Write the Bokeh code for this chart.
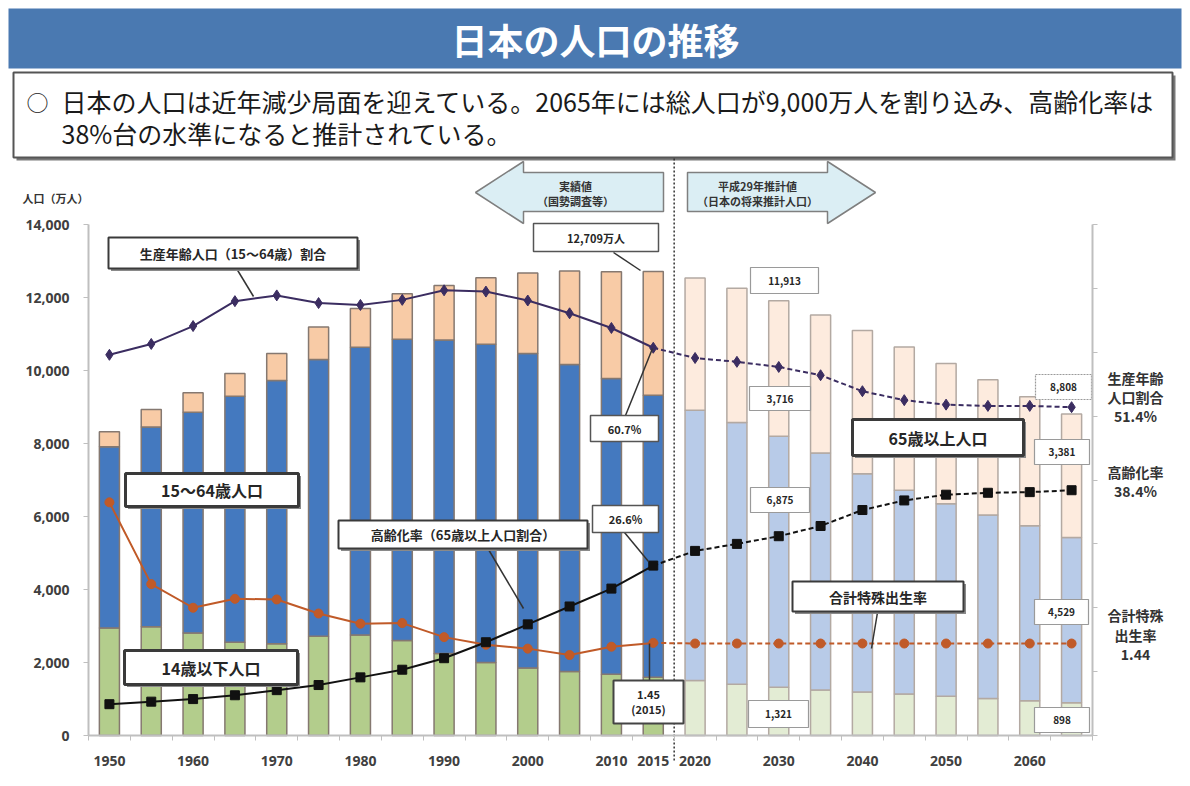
from bokeh.plotting import figure
from bokeh.models import (Range1d, LinearAxis, FixedTicker, NumeralTickFormatter,
                          ColumnDataSource)
from bokeh.embed import file_html
from bokeh.resources import INLINE
from bokeh.core.properties import value

# ---------------- data ----------------
years = [1950, 1955, 1960, 1965, 1970, 1975, 1980, 1985, 1990, 1995, 2000, 2005,
         2010, 2015, 2020, 2025, 2030, 2035, 2040, 2045, 2050, 2055, 2060, 2065]
age_0_14 = [2943, 2980, 2807, 2553, 2515, 2722, 2751, 2603, 2249, 2001, 1847, 1752,
            1680, 1595, 1507, 1407, 1321, 1246, 1194, 1138, 1077, 1012, 951, 898]
age_15_64 = [4966, 5473, 6047, 6744, 7212, 7581, 7883, 8251, 8590, 8716, 8622, 8409,
             8103, 7728, 7406, 7170, 6875, 6494, 5978, 5584, 5275, 5028, 4793, 4529]
age_65_plus = [416, 479, 535, 624, 739, 887, 1065, 1247, 1489, 1826, 2201, 2567,
               2925, 3387, 3619, 3677, 3716, 3782, 3921, 3919, 3841, 3704, 3540, 3381]
total_pop = [8320, 8928, 9342, 9921, 10467, 11194, 11706, 12105, 12361, 12557, 12693, 12777,
             12806, 12709, 12532, 12254, 11913, 11522, 11092, 10642, 10192, 9744, 9284, 8808]
ratio_15_64 = [59.6, 61.3, 64.1, 68.0, 68.9, 67.7, 67.4, 68.2, 69.7, 69.5, 68.1, 66.1,
               63.8, 60.7, 59.1, 58.5, 57.7, 56.4, 53.9, 52.5, 51.8, 51.6, 51.6, 51.4]
aging_rate = [4.9, 5.3, 5.7, 6.3, 7.1, 7.9, 9.1, 10.3, 12.1, 14.6, 17.4, 20.2,
              23.0, 26.6, 28.9, 30.0, 31.2, 32.8, 35.3, 36.8, 37.7, 38.0, 38.1, 38.4]
tfr = [3.65, 2.37, 2.00, 2.14, 2.13, 1.91, 1.75, 1.76, 1.54, 1.42, 1.36, 1.26,
       1.39, 1.45, 1.44, 1.44, 1.44, 1.44, 1.44, 1.44, 1.44, 1.44, 1.44, 1.44]
last_actual_year = 2015
x_tick_years = [1950, 1960, 1970, 1980, 1990, 2000, 2010, 2015, 2020, 2030, 2040, 2050, 2060]

FONT = "Noto Sans CJK JP"
W, H = 1186, 782

# page-pixel -> data helpers (canvas drawn at page (0, 0))
SX = 1004 / 120.0      # px per year   (1947.5 at x=88, 2067.5 at x=1092)
SY = 511 / 14000.0     # px per 万人    (0 at y=735, 14000 at y=224)
def X(px):
    return 1947.5 + (px - 88) / SX
def Y(py):
    return (735 - py) / SY
PCT = 80 / 14000.0     # right scale: 80% <-> 14000

p = figure(width=W, height=H, x_range=Range1d(X(0), X(W)), y_range=Range1d(Y(H), Y(0)),
           output_backend="svg", toolbar_location=None, x_axis_type=None, y_axis_type=None,
           min_border=0, outline_line_color=None)
p.extra_y_ranges = {"pct": Range1d(Y(H) * PCT, Y(0) * PCT)}
p.grid.visible = False

def txt(xs, ys, texts, size, color="#262626", style="bold", align="center", baseline="middle"):
    p.text(x=[X(v) for v in xs], y=[Y(v) for v in ys], text=texts, text_font=value(FONT),
           text_font_size=f"{size}px", text_font_style=style, text_color=color,
           text_align=align, text_baseline=baseline)

def rect(x0, y0, x1, y1, fill, line=None, lw=1.0, dash="solid"):
    p.quad(left=[X(x0)], right=[X(x1)], top=[Y(y0)], bottom=[Y(y1)], fill_color=fill,
           line_color=line, line_width=lw, line_dash=dash)

# ---------------- header ----------------
rect(8, 8, 1181, 68, "#4a79b1")
txt([595], [38], ["日本の人口の推移"], 36, color="white")
rect(16, 75, 1175, 160, "#7a7a7a")
rect(13, 72, 1172, 157, "white", "#555555", 2)
txt([37], [100], ["○"], 22, color="#222222", style="normal")
txt([61, 61], [100, 132],
    ["日本の人口は近年減少局面を迎えている。2065年には総人口が9,000万人を割り込み、高齢化率は",
     "38%台の水準になると推計されている。"], 25, color="#1a1a1a", style="normal", align="left")

# ---------------- period arrows ----------------
ARW_FILL = "#dbeef4"
p.patch(x=[X(v) for v in [475, 523, 523, 663, 663, 523, 523]],
        y=[Y(v) for v in [192, 161, 172, 172, 211, 211, 223]],
        fill_color=ARW_FILL, line_color="#7f7f7f", line_width=1.5)
p.patch(x=[X(v) for v in [687, 827, 827, 875, 827, 827, 687]],
        y=[Y(v) for v in [172, 172, 161, 192, 223, 211, 211]],
        fill_color=ARW_FILL, line_color="#7f7f7f", line_width=1.5)
txt([575, 575, 757, 757], [185, 200, 185, 200],
    ["実績値", "（国勢調査等）", "平成29年推計値", "（日本の将来推計人口）"], 11, color="#333333")

# ---------------- bars ----------------
is_actual = [y <= last_actual_year for y in years]
b1 = age_0_14
b2 = [a + b for a, b in zip(age_0_14, age_15_64)]
b3 = [a + b + c for a, b, c in zip(age_0_14, age_15_64, age_65_plus)]
src = ColumnDataSource(dict(
    x=years, b1=b1, b2=b2, b3=b3,
    col_young=["#b3cd8c" if a else "#e3ecd4" for a in is_actual],
    col_work=["#4479bf" if a else "#b8cbe8" for a in is_actual],
    col_old=["#f8cba6" if a else "#fdebde" for a in is_actual],
    col_edge=["#857870" if a else "#b3a9a2" for a in is_actual],
))
BW = 2.4
p.vbar(x="x", width=BW, bottom=0, top="b1", fill_color="col_young", line_color="col_edge",
       line_width=1.5, source=src)
p.vbar(x="x", width=BW, bottom="b1", top="b2", fill_color="col_work", line_color="col_edge",
       line_width=1.5, source=src)
p.vbar(x="x", width=BW, bottom="b2", top="b3", fill_color="col_old", line_color="col_edge",
       line_width=1.5, source=src)

# divider between actual and projected
p.segment(x0=[2017.5], y0=[Y(158)], x1=[2017.5], y1=[Y(762)], line_dash="2 2",
          line_color="#333333", line_width=1.5)

# ---------------- lines ----------------
i15 = years.index(last_actual_year)
def series(vals, color, marker, size, scale=1.0, width=2.0):
    v = [s * scale for s in vals]
    p.line(years[:i15 + 1], v[:i15 + 1], y_range_name="pct", line_color=color, line_width=width)
    p.line(years[i15:], v[i15:], y_range_name="pct", line_color=color, line_width=width,
           line_dash="5 3")
    p.scatter(years, v, y_range_name="pct", marker=marker, size=size,
              fill_color=color, line_color=color)

series(ratio_15_64, "#3b2d61", "diamond", 11)
series(tfr, "#c05a28", "circle", 9, scale=10.0)
series(aging_rate, "#111111", "square", 9)

# ---------------- annotation boxes ----------------
def box(x0, y0, x1, y1, lines, size, border="#3a3a3a", bw=2.0, shadow=True, dash="solid"):
    if shadow:
        rect(x0 + 2.5, y0 + 2.5, x1 + 2.5, y1 + 2.5, "#8a8a8a")
    rect(x0, y0, x1, y1, "white", border, bw, dash)
    n = len(lines)
    cy = (y0 + y1) / 2.0
    lh = size * 1.35
    ys = [cy + (k - (n - 1) / 2.0) * lh for k in range(n)]
    txt([(x0 + x1) / 2.0] * n, ys, lines, size)

def leader(x0, y0, x1, y1):
    p.segment(x0=[X(x0)], y0=[Y(y0)], x1=[X(x1)], y1=[Y(y1)], line_color="#333333",
              line_width=1.5)

i30 = years.index(2030)
il = len(years) - 1
thin = dict(border="#9a9a9a", bw=1.2, shadow=False)
mid = dict(border="#555555", bw=1.5, shadow=False)

leader(236, 268, 253, 296)
box(108, 237, 357, 268, ["生産年齢人口（15～64歳）割合"], 13)
leader(613, 252, 640, 270)
box(533, 223, 658, 251, [f"{total_pop[i15]:,}万人"], 11, **mid)
box(750, 267, 818, 293, [f"{total_pop[i30]:,}"], 10, **thin)
box(1035, 374, 1091, 399, [f"{total_pop[il]:,}"], 10, border="#9a9a9a", bw=1.2, shadow=False,
    dash="2 1")
leader(625, 415, 652, 348)
box(590, 415, 658, 441, [f"{ratio_15_64[i15]:.1f}%"], 11, **mid)
box(749, 386, 810, 410, [f"{age_65_plus[i30]:,}"], 10, **thin)
box(852, 419, 1023, 455, ["65歳以上人口"], 16, bw=3)
box(1034, 439, 1089, 464, [f"{age_65_plus[il]:,}"], 10, **thin)
box(125, 473, 298, 506, ["15～64歳人口"], 16, bw=3)
leader(488, 549, 523, 608)
box(338, 520, 587, 548, ["高齢化率（65歳以上人口割合）"], 13)
leader(624, 532, 648, 561)
box(592, 505, 658, 532, [f"{aging_rate[i15]:.1f}%"], 11, **mid)
box(750, 487, 809, 512, [f"{age_15_64[i30]:,}"], 10, **thin)
leader(877, 612, 871, 648)
box(792, 581, 963, 611, ["合計特殊出生率"], 14)
box(1034, 599, 1088, 624, [f"{age_15_64[il]:,}"], 10, **thin)
box(124, 650, 297, 684, ["14歳以下人口"], 16, bw=3)
leader(649, 643, 649, 680)
box(613, 680, 683, 723, [f"{tfr[i15]:.2f}", f"({last_actual_year})"], 11, border="#444444",
    bw=2, shadow=False)
box(748, 700, 808, 727, [f"{age_0_14[i30]:,}"], 10, **thin)
box(1034, 707, 1089, 732, [f"{age_0_14[il]:,}"], 10, **thin)

# side labels
txt([22], [197], ["人口（万人）"], 11, color="#333333", align="left")
txt([1135] * 8, [377, 396, 415, 471, 490, 614, 634, 654],
    ["生産年齢", "人口割合", f"{ratio_15_64[il]:.1f}%", "高齢化率", f"{aging_rate[il]:.1f}%",
     "合計特殊", "出生率", f"{tfr[il]:.2f}"], 14, color="#333333")

# ---------------- axes ----------------
AX = "#bfbfbf"
ya = LinearAxis(fixed_location=1947.5, ticker=FixedTicker(ticks=list(range(0, 14001, 2000))),
                formatter=NumeralTickFormatter(format="0,0"), bounds=(0, 14000))
ya.axis_line_color = AX
ya.axis_line_width = 2
ya.major_tick_line_color = AX
ya.major_tick_out = 5
ya.major_tick_in = 0
ya.minor_tick_line_color = None
ya.major_label_text_font = "Noto Sans"
ya.major_label_text_font_size = "14px"
ya.major_label_text_font_style = "bold"
ya.major_label_text_color = "#404040"
ya.major_label_standoff = 14
p.add_layout(ya, "left")

ra = LinearAxis(y_range_name="pct", fixed_location=2067.5,
                ticker=FixedTicker(ticks=list(range(0, 81, 10))), bounds=(0, 80))
ra.axis_line_color = AX
ra.axis_line_width = 2
ra.major_tick_line_color = AX
ra.major_tick_out = 5
ra.major_tick_in = 0
ra.minor_tick_line_color = None
ra.major_label_text_color = None
ra.major_label_text_font_size = "1px"
p.add_layout(ra, "right")

xa = LinearAxis(fixed_location=0,
                ticker=FixedTicker(ticks=x_tick_years,
                                   minor_ticks=[1947.5 + 5 * k for k in range(25)]),
                formatter=NumeralTickFormatter(format="0"), bounds=(1947.5, 2067.5))
xa.axis_line_color = AX
xa.axis_line_width = 2
xa.major_tick_line_color = None
xa.minor_tick_line_color = AX
xa.minor_tick_out = 5
xa.minor_tick_in = 0
xa.major_label_text_font = "Noto Sans"
xa.major_label_text_font_size = "14px"
xa.major_label_text_font_style = "bold"
xa.major_label_text_color = "#404040"
xa.major_label_standoff = 14
p.add_layout(xa, "below")

open("out.html", "w").write(file_html(p, INLINE))
